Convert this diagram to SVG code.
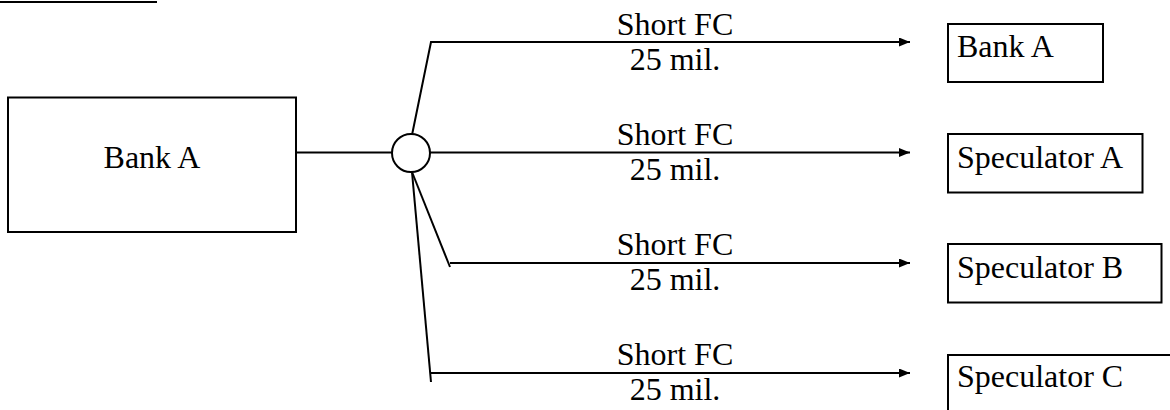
<svg xmlns="http://www.w3.org/2000/svg" width="1170" height="410" viewBox="0 0 1170 410">
<style>
.box{fill:#fff;stroke:#000;stroke-width:2}
.ln{fill:none;stroke:#000;stroke-width:2}
.t{font-family:"Liberation Serif","Times New Roman",serif;font-size:32px;fill:#000}
.m{text-anchor:middle}
</style>
<defs>
<marker id="ah" markerUnits="userSpaceOnUse" markerWidth="12" markerHeight="10" refX="11" refY="4.5" orient="auto">
<path d="M0,0 L11,4.5 L0,9 z" fill="#000"/>
</marker>
</defs>
<rect width="1170" height="410" fill="#fff"/>
<line x1="0" y1="2" x2="157" y2="2" class="ln"/>
<g id="connectors">
<line x1="296" y1="152.5" x2="392" y2="152.5" class="ln"/>
<polyline points="412,135 431,42 910,42" class="ln" marker-end="url(#ah)"/>
<line x1="430" y1="152.5" x2="910" y2="152.5" class="ln" marker-end="url(#ah)"/>
<line x1="412" y1="172" x2="450" y2="267" class="ln"/>
<line x1="450" y1="263" x2="910" y2="263" class="ln" marker-end="url(#ah)"/>
<line x1="412" y1="172" x2="431" y2="382" class="ln"/>
<line x1="431" y1="373" x2="910" y2="373" class="ln" marker-end="url(#ah)"/>
</g>
<g id="labels">
<text x="675" y="35" class="t m">Short FC</text>
<text x="675" y="70" class="t m">25 mil.</text>
<text x="675" y="145" class="t m">Short FC</text>
<text x="675" y="180" class="t m">25 mil.</text>
<text x="675" y="255" class="t m">Short FC</text>
<text x="675" y="290" class="t m">25 mil.</text>
<text x="675" y="365" class="t m">Short FC</text>
<text x="675" y="400" class="t m">25 mil.</text>
</g>
<g id="junction">
<circle cx="411" cy="153" r="19" class="box"/>
</g>
<g id="bankA-source">
<rect x="8" y="97.5" width="288" height="134.5" class="box"/>
<text x="152" y="168" class="t m">Bank A</text>
</g>
<g id="bankA-target">
<rect x="948" y="24" width="155" height="58" class="box"/>
<text x="957" y="57" class="t">Bank A</text>
</g>
<g id="specA">
<rect x="948" y="134" width="194.5" height="58.5" class="box"/>
<text x="957" y="168" class="t">Speculator A</text>
</g>
<g id="specB">
<rect x="948" y="244" width="213.5" height="58.5" class="box"/>
<text x="957" y="278" class="t">Speculator B</text>
</g>
<g id="specC">
<rect x="948" y="355" width="230" height="70" class="box"/>
<text x="957" y="387" class="t">Speculator C</text>
</g>
</svg>
